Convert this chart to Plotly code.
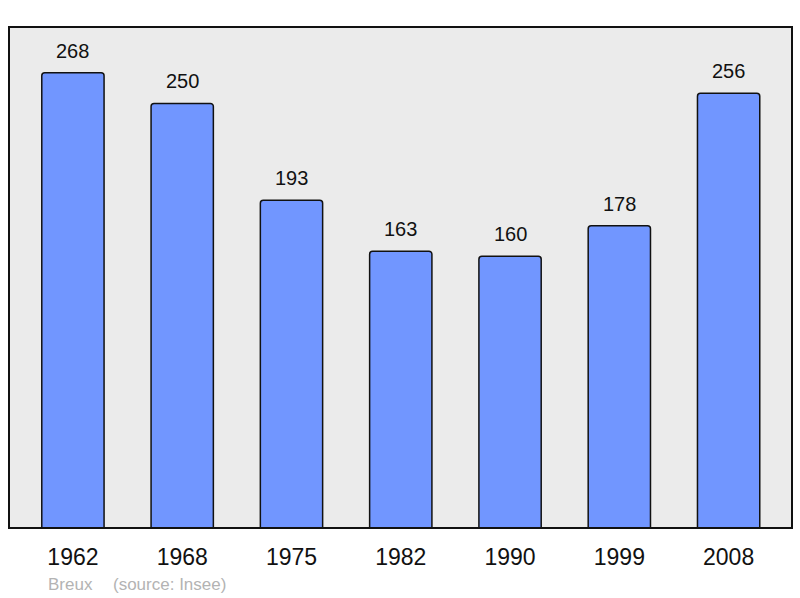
import plotly.graph_objects as go

years = ["1962", "1968", "1975", "1982", "1990", "1999", "2008"]
population = [268, 250, 193, 163, 160, 178, 256]
place = "Breux"
source = "(source: Insee)"

xs = list(range(len(years)))

fig = go.Figure()
fig.add_trace(go.Bar(
    x=xs, y=population, width=0.57,
    marker=dict(color="#7196ff", line=dict(color="#111111", width=1.5), cornerradius=3),
    hoverinfo="skip",
))

for x, v in zip(xs, population):
    fig.add_annotation(x=x, y=v, text=str(v), showarrow=False, yshift=22,
                       font=dict(size=20, color="#111111"))

cap_y = -(584 - 528) / 501
fig.add_annotation(xref="paper", yref="paper", x=(46 - 9) / 783, y=cap_y, xanchor="left",
                   yanchor="middle", text=place, showarrow=False,
                   font=dict(size=17, color="#b3b3b3"))
fig.add_annotation(xref="paper", yref="paper", x=(111 - 9) / 783, y=cap_y, xanchor="left",
                   yanchor="middle", text=source, showarrow=False,
                   font=dict(size=17, color="#b3b3b3"))

fig.add_shape(type="rect", xref="paper", yref="paper", x0=0, y0=0, x1=1, y1=1,
              line=dict(color="#111111", width=2), layer="above")

fig.update_layout(
    width=800, height=598,
    margin=dict(l=9, r=8, t=27, b=70),
    paper_bgcolor="white", plot_bgcolor="#ebebeb",
    font=dict(family="Liberation Sans, Arial, sans-serif", color="#111111"),
    showlegend=False,
    xaxis=dict(range=[-0.585, 6.58], tickvals=xs, ticktext=years, showgrid=False,
               zeroline=False, ticks="outside", ticklen=8, tickcolor="rgba(0,0,0,0)",
               tickfont=dict(size=23, color="#111111"), fixedrange=True),
    yaxis=dict(range=[0, 295], showticklabels=False, showgrid=False, zeroline=False,
               fixedrange=True),
)

fig.write_html("out.html", config={"displayModeBar": False},
               post_script="document.body.style.margin='0';document.body.style.overflow='hidden';")
